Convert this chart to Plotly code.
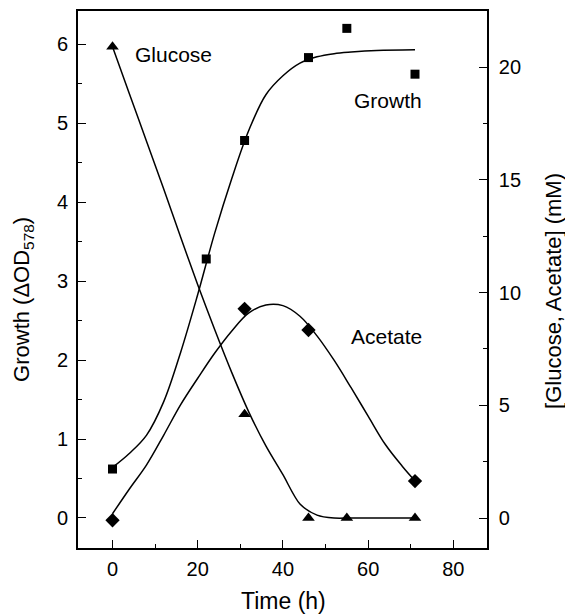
import plotly.graph_objects as go

# ---- measured data ----
growth_t = [0, 22, 31, 46, 55, 71]
growth_od = [0.62, 3.28, 4.78, 5.83, 6.20, 5.62]

glucose_t = [0, 31, 46, 55, 71]
glucose_mM = [20.9, 4.6, 0.0, 0.0, 0.0]

acetate_t = [0, 31, 46, 71]
acetate_mM = [-0.1, 9.28, 8.34, 1.64]

# ---- fitted curves ----
growth_fit_t = [0, 4, 8, 12, 16, 20, 24, 28, 32, 36, 40, 44, 48, 52, 56, 62, 71]
growth_fit = [0.64, 0.82, 1.05, 1.47, 2.10, 2.83, 3.61, 4.30, 4.91, 5.36, 5.60, 5.76, 5.84, 5.88, 5.90, 5.92, 5.93]

glucose_fit_t = [0, 4, 8, 12, 16, 20, 24, 28, 32, 36, 40, 44, 48, 52, 56, 62, 71]
glucose_fit = [20.9, 18.8, 16.7, 14.6, 12.45, 10.35, 8.35, 6.45, 4.7, 3.2, 1.92, 0.62, 0.13, 0.0, 0.0, 0.0, 0.0]

acetate_fit_t = [0, 4, 8, 12, 16, 20, 24, 28, 32, 36, 40, 44, 48, 52, 56, 60, 64, 68, 71]
acetate_fit = [0.19, 1.3, 2.36, 3.67, 5.03, 6.2, 7.32, 8.3, 9.1, 9.45, 9.42, 8.95, 8.08, 7.0, 5.78, 4.52, 3.27, 2.3, 1.65]

FONT = "Liberation Sans, Arial, sans-serif"
W, H = 565, 616
ML, MR, MT, MB = 78, 78, 9, 68
PW, PH = W - ML - MR, H - MT - MB


def px(x):
    return (x - ML) / PW


def py(y):
    return (H - MB - y) / PH


fig = go.Figure()

line = dict(color="black", width=1.5)
fig.add_trace(go.Scatter(x=growth_fit_t, y=growth_fit, mode="lines",
                         line=dict(**line, shape="spline", smoothing=1.0), yaxis="y", showlegend=False))
fig.add_trace(go.Scatter(x=glucose_fit_t, y=glucose_fit, mode="lines",
                         line=dict(**line, shape="spline", smoothing=0.8), yaxis="y2", showlegend=False))
fig.add_trace(go.Scatter(x=acetate_fit_t, y=acetate_fit, mode="lines",
                         line=dict(**line, shape="spline", smoothing=1.0), yaxis="y2", showlegend=False))

fig.add_trace(go.Scatter(x=growth_t, y=growth_od, mode="markers",
                         marker=dict(symbol="square", size=9, color="black"), yaxis="y", showlegend=False))
fig.add_trace(go.Scatter(x=glucose_t, y=glucose_mM, mode="markers",
                         marker=dict(symbol="triangle-up", size=11, color="black"), yaxis="y2", showlegend=False))
fig.add_trace(go.Scatter(x=acetate_t, y=acetate_mM, mode="markers",
                         marker=dict(symbol="diamond", size=11, color="black"), yaxis="y2", showlegend=False))

axcommon = dict(showgrid=False, zeroline=False, showline=True, linecolor="black", linewidth=1.6,
                ticks="inside", ticklen=8, tickwidth=1.4, tickcolor="black",
                tickfont=dict(family=FONT, size=20, color="black"))

fig.update_layout(
    width=W, height=H,
    margin=dict(l=ML, r=MR, t=MT, b=MB),
    paper_bgcolor="white", plot_bgcolor="white",
    font=dict(family=FONT, color="black"),
    xaxis=dict(**axcommon, range=[-8.1, 87.9], tickvals=[0, 20, 40, 60, 80], mirror=True,
               minor=dict(ticks="inside", ticklen=4, tickwidth=1.2, tickcolor="black", dtick=10, tick0=0),
               ticklabelstandoff=2),
    yaxis=dict(**axcommon, range=[-0.38, 6.42], tickvals=[0, 1, 2, 3, 4, 5, 6],
               minor=dict(ticks="inside", ticklen=4, tickwidth=1.2, tickcolor="black", dtick=0.5, tick0=0),
               ticklabelstandoff=4),
    yaxis2=dict(**axcommon, overlaying="y", side="right", range=[-1.33, 22.49], tickvals=[0, 5, 10, 15, 20],
                minor=dict(ticks="inside", ticklen=4, tickwidth=1.2, tickcolor="black", dtick=2.5, tick0=0),
                ticklabelstandoff=6),
)

ann_font = dict(family=FONT, size=21, color="black")
title_font = dict(family=FONT, size=22, color="black")


def label(text, x, y, font, angle=0):
    fig.add_annotation(text=text, x=px(x), y=py(y), xref="paper", yref="paper", showarrow=False,
                       xanchor="center", yanchor="middle", textangle=angle, font=font)


label("Glucose", 173, 53, ann_font)
label("Growth", 388, 99, ann_font)
label("Acetate", 386, 336, ann_font)

label("Time (h)", 283, 601, dict(title_font, size=23))
label("Growth (ΔOD<sub>578</sub>)", 23, 298, title_font, -90)
label("[Glucose, Acetate] (mM)", 554, 290, title_font, -90)

fig.write_html("out.html")
